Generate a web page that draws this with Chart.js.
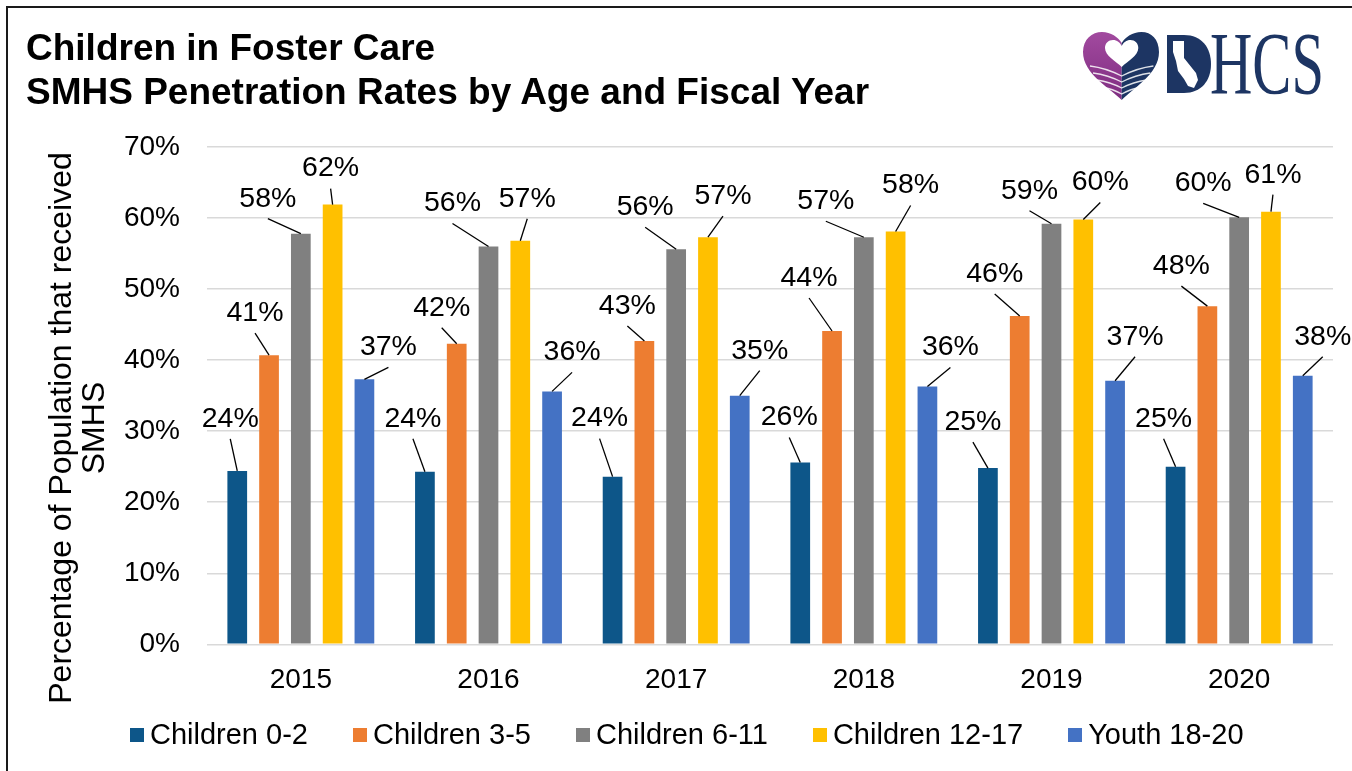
<!DOCTYPE html>
<html>
<head>
<meta charset="utf-8">
<title>Children in Foster Care - SMHS Penetration Rates</title>
<script src="https://cdn.jsdelivr.net/npm/chart.js@4.4.1/dist/chart.umd.min.js"></script>
<style>
	html, body {
		margin: 0;
		padding: 0;
		background: #fff;
		width: 1352px;
		height: 771px;
		overflow: hidden;
		font-family: 'Liberation Sans', Arial, sans-serif;
	}
	#frame {
		position: absolute;
		left: 6px;
		top: 6px;
		width: 1400px;
		height: 800px;
		border-left: 2px solid #1a1a1a;
		border-top: 2px solid #1a1a1a;
	}
	#chartTitle {
		position: absolute;
		left: 26px;
		top: 26px;
		font-weight: 700;
		font-size: 37px;
		line-height: 44px;
		color: #000;
	}
	#logo {
		position: absolute;
		left: 1080px;
		top: 28px;
	}
	#chartLegend {
		position: absolute;
		left: 130px;
		top: 718px;
		display: flex;
		align-items: center;
		gap: 45px;
		font-size: 29px;
		color: #000;
		white-space: nowrap;
	}
	#chartLegend .item {
		display: flex;
		align-items: center;
	}
	#chartLegend .box {
		width: 14px;
		height: 14px;
		margin-right: 6px;
	}
	canvas {
		position: absolute;
		left: 0;
		top: 0;
	}
</style>
</head>
<body>
<div id="frame"></div>
<canvas id="smhsChart" width="1352" height="771"></canvas>
<div id="chartTitle">Children in Foster Care<br>SMHS Penetration Rates by Age and Fiscal Year</div>
<svg id="logo" width="250" height="78" viewBox="0 0 250 78">
	<defs>
		<linearGradient id="purple" x1="0" y1="0" x2="0" y2="1">
			<stop offset="0" stop-color="#a24a9f"/>
			<stop offset="1" stop-color="#7e2c80"/>
		</linearGradient>
		<clipPath id="leftHalf"><rect x="0" y="0" width="41.7" height="78"/></clipPath>
		<clipPath id="rightHalf"><rect x="41.7" y="0" width="60" height="78"/></clipPath>
	</defs>
	<!-- heart: purple left half, navy right half -->
	<path d="M41.7 72 C30 60 3 46 3 24 C3 11 12 4 22 4 C31 4 38 9 41.7 15 C45.4 9 52.4 4 61.4 4 C71.4 4 79 11 79 24 C79 46 53.4 60 41.7 72 Z" fill="url(#purple)" clip-path="url(#leftHalf)"/>
	<path d="M41.7 72 C30 60 3 46 3 24 C3 11 12 4 22 4 C31 4 38 9 41.7 15 C45.4 9 52.4 4 61.4 4 C71.4 4 79 11 79 24 C79 46 53.4 60 41.7 72 Z" fill="#1d3563" clip-path="url(#rightHalf)"/>
	<path d="M41.7 39 C36 33 25 28 25 20 C25 15 28.5 12 33 12 C37 12 40 14.5 41.7 18 C43.4 14.5 46.4 12 50.4 12 C54.9 12 58.3 15 58.3 20 C58.3 28 47.4 33 41.7 39 Z" fill="#fff"/>
	<g fill="none" stroke="#fff" stroke-width="1.3" opacity="0.85">
		<path d="M10 38 Q26 40 41.7 48 Q57.4 40 73.4 38"/>
		<path d="M13 45 Q28 47 41.7 54 Q55.4 47 70.4 45"/>
		<path d="M17 52 Q30 54 41.7 60 Q53.4 54 66.4 52"/>
		<path d="M22 59 Q33 61 41.7 66 Q50.4 61 61.4 59"/>
	</g>
	<!-- D with state outline -->
	<path d="M87 7 L104 7 C122 7 131 20 131 36 C131 53 121 65 104 65 L87 65 Z" fill="#1d3563"/>
	<path d="M93 13 L104 13 L104 30 L116 45 L118 52 L114 60 L108 58 L104 51 L98 43 L96 33 L93 24 Z" fill="#fff"/>
	<text x="130" y="65.3" font-family="'Liberation Serif', 'DejaVu Serif', serif" font-size="88" fill="#1d3563" textLength="114" lengthAdjust="spacingAndGlyphs">HCS</text>
</svg>
<div id="chartLegend"></div>
<script>
// ===== DATA =====
const years = ['2015', '2016', '2017', '2018', '2019', '2020'];
const ageGroups = ['Children 0-2', 'Children 3-5', 'Children 6-11', 'Children 12-17', 'Youth 18-20'];

// Penetration rate (%) per fiscal year
const children0to2 = [24.4, 24.3, 23.6, 25.6, 24.8, 25.0];
const children3to5 = [40.7, 42.3, 42.7, 44.1, 46.2, 47.6];
const children6to11 = [57.8, 56.0, 55.6, 57.3, 59.2, 60.1];
const children12to17 = [61.9, 56.8, 57.3, 58.1, 59.8, 60.9];
const youth18to20 = [37.3, 35.6, 35.0, 36.3, 37.1, 37.8];

const yTicks = [0, 10, 20, 30, 40, 50, 60, 70];

// Callout offsets (px) from the top of each bar to its label
const calloutOffsets = [
	[[-7, -52], [-12, -53], [-13, -58], [-11, -45], [-15, -46], [-12, -48]],
	[[-14, -42], [-15, -36], [-17, -35], [-23, -53], [-25, -42], [-26, -40]],
	[[-33, -35], [-36, -43], [-31, -42], [-38, -36], [-22, -33], [-36, -34]],
	[[-2, -36], [7, -42], [15, -41], [15, -46], [17, -37], [2, -37]],
	[[24, -32], [20, -39], [20, -45], [23, -39], [20, -44], [20, -39]]
];

const seriesColors = ['#0d5689', '#ed7d31', '#808080', '#ffc000', '#4472c4'];
const FONT = "'Liberation Sans', Arial, sans-serif";

// ===== PLUGINS =====
const calloutLabels = {
	id: 'calloutLabels',
	afterDatasetsDraw(chart) {
		const ctx = chart.ctx;
		ctx.save();
		ctx.font = '28.5px ' + FONT;
		ctx.fillStyle = '#000';
		ctx.strokeStyle = '#000';
		ctx.lineWidth = 1.3;
		ctx.textAlign = 'center';
		ctx.textBaseline = 'middle';
		chart.data.datasets.forEach((ds, i) => {
			const meta = chart.getDatasetMeta(i);
			meta.data.forEach((bar, j) => {
				const off = calloutOffsets[i][j];
				const lx = bar.x + off[0];
				const ly = bar.y + off[1];
				// leader line from label to bar top
				ctx.beginPath();
				ctx.moveTo(lx, ly + 20);
				ctx.lineTo(bar.x, bar.y);
				ctx.stroke();
				ctx.fillText(Math.round(ds.data[j]) + '%', lx, ly);
			});
		});
		ctx.restore();
	}
};

const yAxisTitle = {
	id: 'yAxisTitle',
	afterDraw(chart) {
		const ctx = chart.ctx;
		ctx.save();
		ctx.translate(0, 428);
		ctx.rotate(-Math.PI / 2);
		ctx.font = '32px ' + FONT;
		ctx.fillStyle = '#000';
		ctx.textAlign = 'center';
		ctx.textBaseline = 'middle';
		ctx.fillText('Percentage of Population that received', 0, 62);
		ctx.fillText('SMHS', 0, 95);
		ctx.restore();
	}
};

// ===== CHART =====
const ctx = document.getElementById('smhsChart').getContext('2d');
const seriesData = [children0to2, children3to5, children6to11, children12to17, youth18to20];

const smhsChart = new Chart(ctx, {
	type: 'bar',
	data: {
		labels: years,
		datasets: ageGroups.map((name, i) => ({
			label: name,
			data: seriesData[i],
			backgroundColor: seriesColors[i],
			borderWidth: 0,
			barPercentage: 0.62,
			categoryPercentage: 0.847
		}))
	},
	options: {
		responsive: false,
		animation: false,
		devicePixelRatio: 1,
		layout: {
			padding: { top: 147, right: 19, bottom: 0, left: 0 }
		},
		plugins: {
			legend: { display: false },
			title: { display: false },
			tooltip: { enabled: false }
		},
		scales: {
			y: {
				min: 0,
				max: 70,
				afterBuildTicks: (scale) => {
					scale.ticks = yTicks.map(v => ({ value: v }));
				},
				afterFit: (scale) => {
					scale.width = 207;
				},
				ticks: {
					callback: (value) => value + '%',
					font: { size: 28, family: FONT },
					color: '#000',
					padding: 27
				},
				grid: {
					color: '#d9d9d9',
					lineWidth: 1.5,
					drawTicks: false
				},
				border: { display: false }
			},
			x: {
				afterFit: (scale) => {
					scale.height = 126.7;
				},
				ticks: {
					font: { size: 28, family: FONT },
					color: '#000',
					padding: 19
				},
				grid: { display: false, drawTicks: false },
				border: { display: false }
			}
		}
	},
	plugins: [calloutLabels, yAxisTitle]
});

// ===== LEGEND =====
const legendEl = document.getElementById('chartLegend');
smhsChart.data.datasets.forEach(ds => {
	const item = document.createElement('div');
	item.className = 'item';
	item.innerHTML = `<span class="box" style="background:${ds.backgroundColor}"></span>${ds.label}`;
	legendEl.appendChild(item);
});
</script>
</body>
</html>
